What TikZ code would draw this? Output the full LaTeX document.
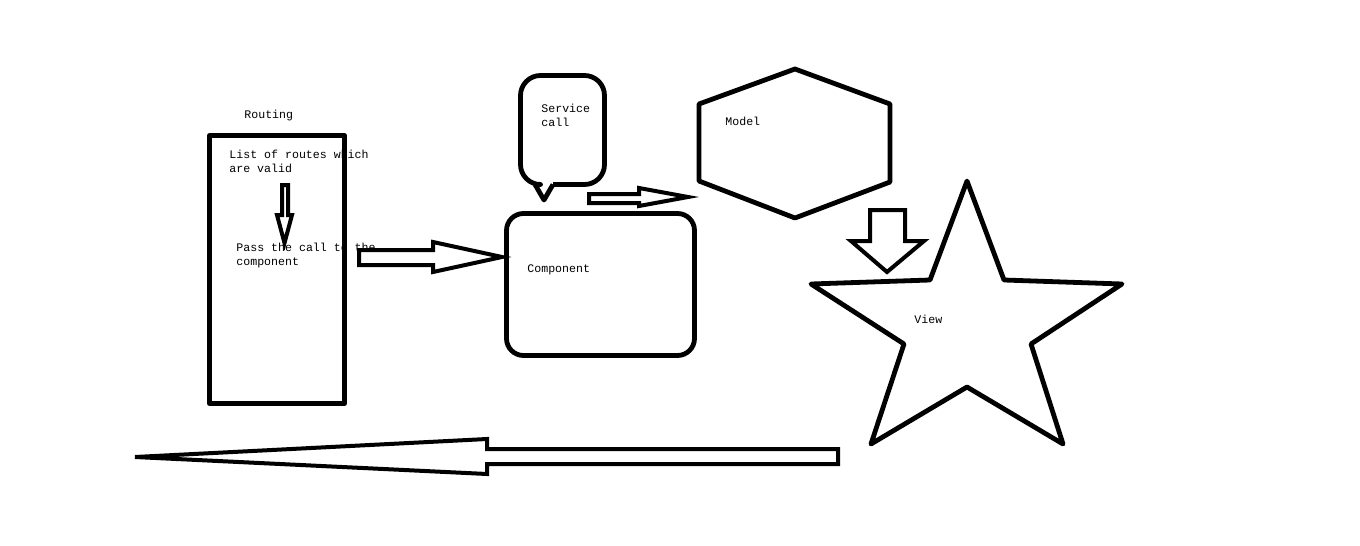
\documentclass[tikz,border=0pt]{standalone}
\usepackage{fontspec}
\setmonofont{Liberation Mono}
\begin{document}
\begin{tikzpicture}[x=0.5pt,y=-0.5pt,
  outline/.style={draw=black,line width=2.4pt,line join=round},
  blockarrow/.style={draw=black,line width=2pt,line join=miter,fill=white},
  lbl/.style={inner sep=0pt,anchor=north west,align=left,
    font=\ttfamily\fontsize{5.8}{7}\selectfont}]
\useasboundingbox[fill=white] (0,0) rectangle (1360,546);

% Routing box and its texts
\node[lbl] (routing) at (244,110) {Routing};
\node[lbl] (routes) at (229,150) {List of routes which\\are valid};
\node[lbl] (pass) at (236,243) {Pass the call to the\\component};
\draw[outline] (209.5,135.5) rectangle (344.5,403.5);

% arrow inside the routing box
\draw[blockarrow] (282,185) -- (288,185) -- (288,215) -- (292,215) -- (284.5,243)
  -- (277,215) -- (282,215) -- cycle;

% arrow from routing to component
\draw[blockarrow] (359,250) -- (433,250) -- (433,242) -- (502,257) -- (433,272)
  -- (433,265) -- (359,265) -- cycle;

% component
\draw[outline,rounded corners=8.5pt] (506.5,213.5) rectangle (694.5,355.5);
\node[lbl] (component) at (527,264) {Component};

% service call bubble
\draw[outline,rounded corners=10pt] (553,184.5) -- (604.5,184.5) -- (604.5,75.5)
  -- (520.5,75.5) -- (520.5,184.5) -- (535,184.5);
\draw[outline] (535,184.5) -- (544,200) -- (553,184.5);
\node[lbl] (service) at (541,104) {Service\\call};

% arrow from service call towards the model
\draw[blockarrow] (589,194) -- (639,194) -- (639,188) -- (688,197) -- (639,206)
  -- (639,203) -- (589,203) -- cycle;

% model hexagon
\draw[outline] (795,69) -- (890,104) -- (890,182) -- (795,218) -- (699,181)
  -- (699,104) -- cycle;
\node[lbl] (model) at (725,117) {Model};

% arrow from model down to the view
\draw[blockarrow] (870,210) -- (905,210) -- (905,241) -- (924,241) -- (887,272)
  -- (851,241) -- (870,241) -- cycle;

% view star
\draw[outline] (967,181) -- (1004,280) -- (1122,284) -- (1031,344) -- (1063,444)
  -- (967,387) -- (871,444) -- (904,344) -- (811,284) -- (930,280) -- cycle;
\node[lbl] (view) at (914,315) {View};

% long arrow back to the left
\draw[blockarrow] (838,449) -- (487,449) -- (487,439) -- (135,457) -- (487,474)
  -- (487,464) -- (838,464) -- cycle;
\end{tikzpicture}
\end{document}
